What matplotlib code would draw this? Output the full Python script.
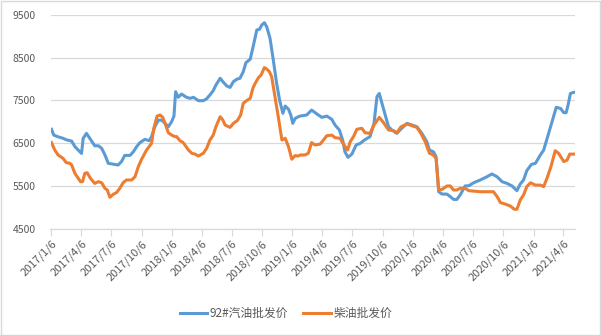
import matplotlib
matplotlib.use("Agg")
import matplotlib.pyplot as plt
import matplotlib.dates as mdates
import pandas as pd
from matplotlib.patches import Rectangle

plt.rcParams['font.family'] = ['Noto Sans CJK SC', 'DejaVu Sans']

start_date = "2017-01-06"

# 92# gasoline wholesale price: day offsets from start_date and values
gas_days = [0, 7, 20, 35, 45, 61, 71, 81, 91, 96, 106, 116, 131, 142, 152, 162, 172, 187, 202, 212,
            222, 238, 248, 258, 268, 283, 296, 303, 313, 324, 334, 344, 354, 364, 371, 376, 384, 394,
            409, 420, 430, 445, 460, 470, 480, 490, 498, 511, 519, 531, 541, 551, 561, 571, 581, 589,
            602, 612, 622, 630, 637, 645, 652, 662, 672, 682, 691, 701, 708, 718, 725, 731, 738, 748,
            753, 773, 788, 804, 819, 834, 849, 859, 872, 882, 889, 898, 910, 923, 935, 948, 965, 977,
            986, 993, 1001, 1011, 1021, 1031, 1046, 1061, 1077, 1092, 1107, 1122, 1137, 1145, 1157,
            1165, 1173, 1183, 1198, 1208, 1218, 1228, 1238, 1253, 1264, 1279, 1299, 1319, 1334, 1350,
            1365, 1380, 1395, 1410, 1420, 1430, 1440, 1454, 1466, 1481, 1491, 1506, 1518, 1529, 1542,
            1552, 1559, 1565, 1572, 1582]
gas_vals = [6825, 6690, 6650, 6615, 6580, 6550, 6420, 6340, 6260, 6615, 6730, 6615, 6440, 6440, 6380,
            6225, 6030, 6010, 5990, 6070, 6215, 6215, 6300, 6420, 6515, 6590, 6560, 6650, 6885, 7040,
            7040, 6965, 6885, 7005, 7135, 7705, 7575, 7650, 7575, 7550, 7575, 7495, 7495, 7540, 7630,
            7730, 7860, 8020, 7940, 7840, 7805, 7940, 7995, 8020, 8175, 8385, 8465, 8800, 9150, 9165,
            9265, 9320, 9225, 8955, 8445, 7900, 7510, 7200, 7370, 7295, 7160, 6965, 7080, 7120,
            7135, 7160, 7275, 7185, 7105, 7135, 7060, 6925, 6810, 6575, 6300, 6170, 6245, 6460, 6495,
            6575, 6655, 6965, 7590, 7665, 7435, 7160, 6885, 6810, 6730, 6850, 6965, 6925, 6885, 6730,
            6535, 6340, 6300, 6185, 5365, 5310, 5310, 5250, 5185, 5185, 5290, 5500, 5505, 5575, 5640,
            5715, 5780, 5715, 5600, 5560, 5500, 5390, 5545, 5640, 5860, 6005, 6030, 6225, 6340, 6730,
            7045, 7340, 7315, 7215, 7215, 7395, 7665, 7690]

# Diesel wholesale price
diesel_days = [0, 10, 20, 35, 45, 56, 61, 71, 81, 88, 94, 101, 108, 118, 131, 142, 152, 162, 169, 177,
               187, 197, 207, 217, 227, 243, 253, 263, 273, 288, 303, 310, 320, 329, 337, 344, 354, 364,
               374, 379, 389, 399, 415, 425, 435, 445, 460, 470, 480, 490, 498, 511, 519, 526, 541, 551,
               563, 573, 581, 591, 602, 610, 617, 627, 635, 645, 652, 660, 667, 677, 687, 698, 708, 718,
               728, 738, 748,
               753, 768, 778, 788, 798, 814, 824, 834, 849, 859, 874, 886, 897, 905, 915, 925, 940, 950,
               965, 977, 993, 1006, 1021, 1036, 1046, 1059, 1077, 1092, 1107, 1119, 1132, 1145, 1157,
               1165, 1173, 1183, 1198, 1208, 1218, 1228, 1238, 1253, 1264, 1279, 1299, 1319, 1339, 1350,
               1360, 1375, 1390, 1402, 1410, 1420, 1430, 1440, 1451, 1466, 1481, 1491, 1501, 1513, 1526,
               1536, 1552, 1562, 1570, 1582]
diesel_vals = [6515, 6340, 6225, 6145, 6045, 6030, 5990, 5795, 5680, 5600, 5600, 5795, 5810, 5680, 5560,
               5600, 5575, 5445, 5405, 5235, 5305, 5345, 5445, 5575, 5640, 5640, 5715, 5950, 6125, 6340,
               6495, 6850, 7135, 7160, 7105, 6965, 6745, 6690, 6655, 6655, 6560, 6515, 6340, 6265, 6245,
               6200, 6265, 6380, 6575, 6690, 6885, 7120, 7045, 6925, 6870, 6965, 7030, 7160, 7435, 7495,
               7550, 7785, 7900, 8035, 8095, 8270, 8235, 8175, 8055, 7590, 7120, 6575, 6615, 6420, 6125,
               6210, 6200,
               6225, 6225, 6265, 6515, 6460, 6480, 6575, 6675, 6690, 6630, 6615, 6460, 6340, 6535, 6655,
               6825, 6850, 6745, 6730, 6925, 7105, 6980, 6810, 6795, 6745, 6885, 6950, 6910, 6870, 6730,
               6535, 6265, 6225, 6145, 5405, 5420, 5500, 5500, 5405, 5405, 5445, 5445, 5390, 5380, 5365,
               5365, 5365, 5250, 5110, 5075, 5030, 4955, 4955, 5170, 5290, 5485, 5575, 5520, 5520, 5485,
               5680, 5950, 6325, 6265, 6070, 6105, 6245, 6245]

series_names = ["92#汽油批发价", "柴油批发价"]
y_ticks = [4500, 5500, 6500, 7500, 8500, 9500]

t0 = pd.Timestamp(start_date)
gas_dates = t0 + pd.to_timedelta(gas_days, unit="D")
diesel_dates = t0 + pd.to_timedelta(diesel_days, unit="D")

fig = plt.figure(figsize=(6.01, 3.35), dpi=100)
ax = fig.add_axes([50.5 / 601, 1 - 228.7 / 335, (574.7 - 50.5) / 601, (228.7 - 15) / 335])

ax.plot(gas_dates, gas_vals, color="#5B9BD5", lw=2.2, label=series_names[0], solid_joinstyle="round")
ax.plot(diesel_dates, diesel_vals, color="#ED7D31", lw=2.2, label=series_names[1], solid_joinstyle="round")

ax.set_ylim(4500, 9500)
ax.set_yticks(y_ticks)
ax.set_xlim(t0 - pd.Timedelta(days=3), t0 + pd.Timedelta(days=1585))

ax.xaxis.set_major_locator(mdates.MonthLocator(bymonth=[1, 4, 7, 10], bymonthday=6))
ax.xaxis.set_major_formatter(plt.FuncFormatter(
    lambda v, p: (lambda d: f"{d.year}/{d.month}/{d.day}")(mdates.num2date(v))))

ax.grid(axis="y", color="#d9d9d9", lw=0.9)
ax.set_axisbelow(True)
for s in ["left", "right", "top"]:
    ax.spines[s].set_visible(False)
ax.spines["bottom"].set_color("#d9d9d9")
ax.spines["bottom"].set_linewidth(0.9)
ax.tick_params(axis="y", length=0, colors="#595959", labelsize=7.5, pad=10.5)
ax.tick_params(axis="x", length=5, color="#d9d9d9", colors="#595959", labelsize=8, pad=2)
for lbl in ax.get_xticklabels():
    lbl.set_rotation(45)
    lbl.set_ha("right")
    lbl.set_rotation_mode("anchor")

leg = fig.legend(loc="center", bbox_to_anchor=(286 / 601, 1 - 313.5 / 335), ncol=2, frameon=False,
                 fontsize=8.5, handlelength=2.3, columnspacing=1.3, handletextpad=0.25)
for t in leg.get_texts():
    t.set_color("#595959")

fig.patches.append(Rectangle((0.5 / 601, 0.5 / 335), 599.5 / 601, 333.5 / 335, transform=fig.transFigure,
                             fill=False, edgecolor="#d9d9d9", lw=1))

fig.savefig("out.png", dpi=100, facecolor="white")
